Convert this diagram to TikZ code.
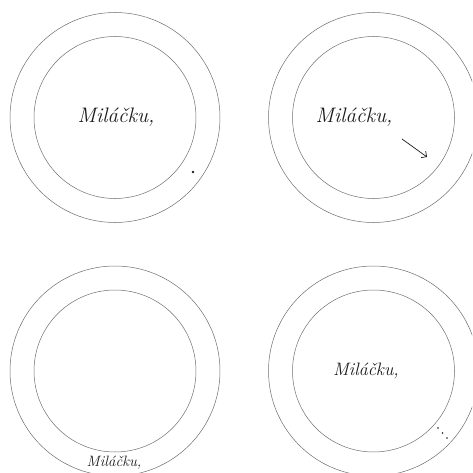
\documentclass[tikz,border=0pt]{standalone}
\usepackage{tikz}
\usetikzlibrary{arrows.meta, calc}
\definecolor{ringedge}{HTML}{6E6E6E}
\definecolor{inkcol}{HTML}{1A1A1A}

\begin{document}
\begin{tikzpicture}[
  x=1pt, y=-1pt,
  ring/.style={draw=ringedge, line width=0.5pt},
  greet/.style={inner sep=0pt, text=inkcol, font=\itshape},
  arrowmark/.style={draw=inkcol, line width=0.7pt, -{Straight Barb[length=4pt]}},
]
\useasboundingbox (0,0) rectangle (472,473);
\clip (0,0) rectangle (472,473);
% four plates: outer and inner rim
\foreach \cx/\cy in {115/117.5, 373.5/117.5, 115/371, 373.5/371} {
  \draw[ring] (\cx,\cy) circle[radius=105];
  \draw[ring] (\cx,\cy) circle[radius=81];
}
% plate 1: text in the middle, a dot on the rim
\node[greet, font=\fontsize{21}{22}\selectfont\itshape] (txta) at (116,117) {Miláčku,};
\fill[inkcol] (193,172) circle[radius=1.3];
% plate 2: text moved left, arrow towards the rim
\node[greet, font=\fontsize{21}{22}\selectfont\itshape] (txtb) at (354,117) {Miláčku,};
\coordinate (arra) at (402,139);
\coordinate (arrb) at (427,157);
\draw[arrowmark] (arra) -- (arrb);
% plate 3: small text at the bottom edge
\node[greet, anchor=base, font=\fontsize{15}{16}\selectfont\itshape] (txtc) at (114,466) {Miláčku,};
% plate 4: text in the middle, dots on the rim
\node[greet, font=\fontsize{18}{19}\selectfont\itshape] (txtd) at (366,371) {Miláčku,};
\foreach \t in {0,0.5,1}
  \fill[inkcol] ($(438,428)!\t!(447,438)$) circle[radius=0.8];
\end{tikzpicture}
\end{document}
